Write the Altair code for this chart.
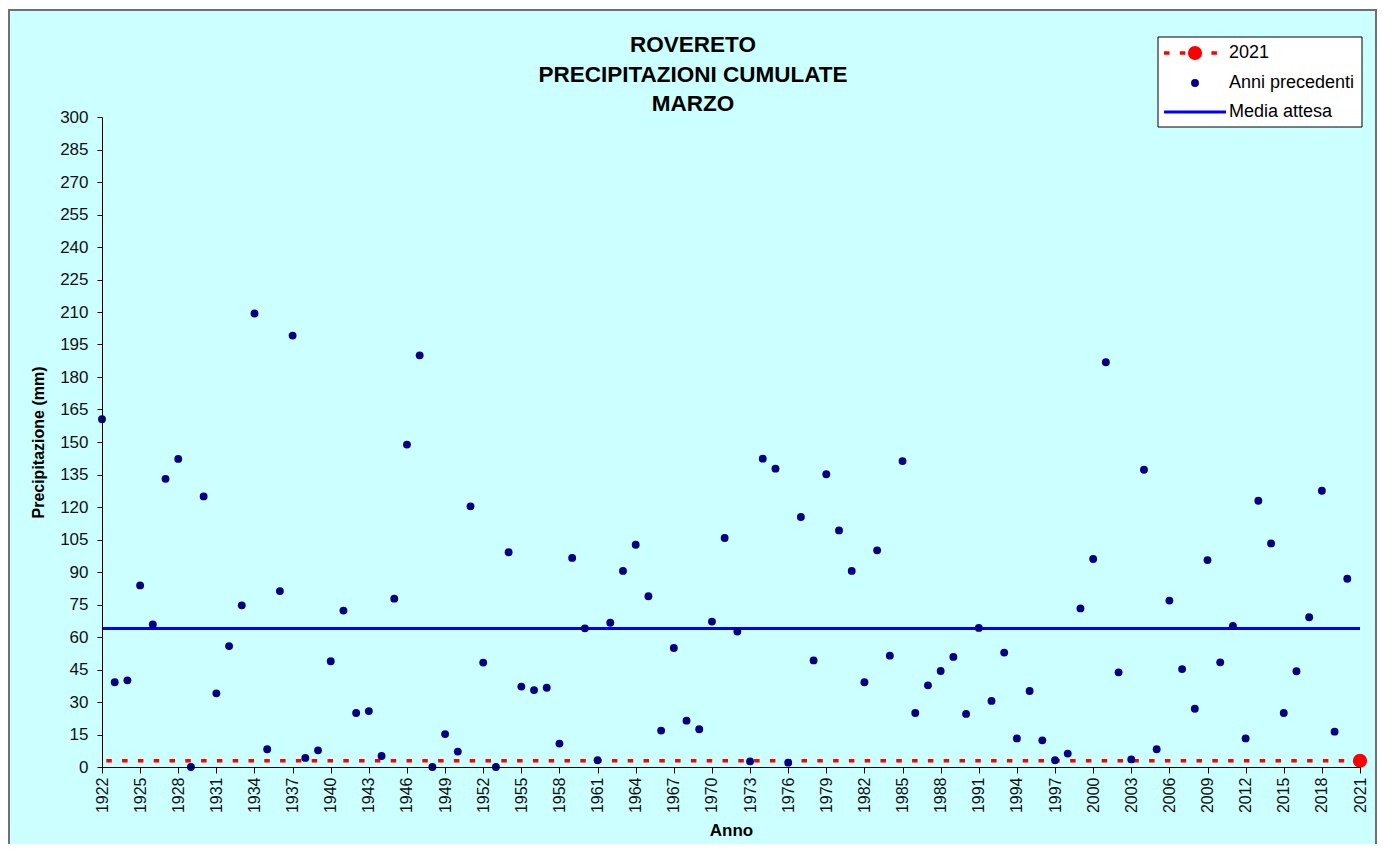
import altair as alt
import pandas as pd

# ---------------- data ----------------
years_prev = list(range(1922, 2021))
precip_prev = [160.5, 39.1, 40.0, 83.8, 65.8, 133.0, 142.2, 0.0, 124.9, 34.0,
               55.8, 74.6, 209.3, 8.2, 81.2, 199.1, 4.2, 7.7, 48.8, 72.2,
               24.9, 25.8, 5.1, 77.7, 148.8, 190.0, 0.0, 15.2, 7.1, 120.3,
               48.2, 0.0, 99.1, 37.1, 35.5, 36.6, 10.8, 96.5, 64.0, 3.1,
               66.6, 90.5, 102.6, 78.8, 16.8, 54.9, 21.4, 17.4, 67.1, 105.7,
               62.5, 2.6, 142.3, 137.7, 2.0, 115.4, 49.2, 135.1, 109.2, 90.5,
               39.1, 100.0, 51.4, 141.2, 24.9, 37.7, 44.3, 50.8, 24.5, 64.2,
               30.5, 52.8, 13.2, 35.1, 12.3, 3.1, 6.2, 73.2, 96.0, 186.8,
               43.7, 3.5, 137.2, 8.2, 76.8, 45.2, 26.9, 95.5, 48.3, 65.1,
               13.2, 122.9, 103.2, 24.9, 44.2, 69.1, 127.5, 16.3, 86.9]
year_current = [2021]
precip_current = [2.9]
media_attesa = [63.9]

x_ticks = list(range(1922, 2022, 3))
y_ticks = list(range(0, 301, 15))
title_lines = ["ROVERETO", "PRECIPITAZIONI CUMULATE", "MARZO"]
legend_labels = ["2021", "Anni precedenti", "Media attesa"]
x_title = "Anno"
y_title = "Precipitazione (mm)"

FONT = "Liberation Sans"
BG = "#CCFFFF"
NAVY = "#000080"
RED = "#FF0000"
BLUE = "#0000FF"

W, H = 1258, 650
PAD = {"left": 94, "top": 109, "right": 17, "bottom": 77}

df_prev = pd.DataFrame({"anno": years_prev, "mm": precip_prev})
df_cur = pd.DataFrame({"anno": year_current, "mm": precip_current})
df_mean = pd.DataFrame({"mm": media_attesa})
one = pd.DataFrame({"k": [0]})

xscale = alt.Scale(domain=[1922, 2021], nice=False, zero=False)
yscale = alt.Scale(domain=[0, 300], nice=False)

xaxis = alt.Axis(values=x_ticks, tickCount=200, format="d", labelAngle=270, grid=False,
                 zindex=1, labelOverlap=False, labelFlush=False,
                 labelFontSize=16, labelColor="#111111", labelPadding=4,
                 tickSize=6, tickColor="black", domainColor="black",
                 title=x_title, titleFontSize=17, titleFontWeight="bold",
                 titleColor="black", titlePadding=10, labelFont=FONT, titleFont=FONT)
yaxis = alt.Axis(values=y_ticks, tickCount=200, grid=False, zindex=1, labelOverlap=False,
                 labelFlush=False,
                 labelFontSize=17, labelColor="#111111", labelPadding=9, tickSize=5,
                 tickColor="black", domainColor="black",
                 title=y_title, titleFontSize=16, titleFontWeight="bold",
                 titleColor="black", titlePadding=13, labelFont=FONT, titleFont=FONT)

# frame of the chart area
frame = alt.Chart(one).mark_rect(fill=BG, stroke="#707070", strokeWidth=2).encode(
    x=alt.value(-93), x2=alt.value(W + PAD["right"] - 1),
    y=alt.value(-107), y2=alt.value(H + 200))

mean_rule = alt.Chart(df_mean).mark_rule(color=BLUE, strokeWidth=3).encode(
    y=alt.Y("mm:Q", scale=yscale, axis=yaxis))

cur_rule = alt.Chart(df_cur).mark_rule(color=RED, strokeWidth=3.4,
                                       strokeDash=[5.5, 10.3]).encode(
    y=alt.Y("mm:Q", scale=yscale, axis=yaxis))

prev_pts = alt.Chart(df_prev).mark_point(filled=True, shape="circle", size=62,
                                         color=NAVY, opacity=1).encode(
    x=alt.X("anno:Q", scale=xscale, axis=xaxis),
    y=alt.Y("mm:Q", scale=yscale, axis=yaxis))

cur_pt = alt.Chart(df_cur).mark_point(filled=True, shape="circle", size=200,
                                      color=RED, opacity=1).encode(
    x=alt.X("anno:Q", scale=xscale, axis=xaxis),
    y=alt.Y("mm:Q", scale=yscale, axis=yaxis))

# title lines
title_y = [-72, -42, -13]
titles = [alt.Chart(one).mark_text(text=t, font=FONT, fontSize=22.5, fontWeight="bold",
                                   color="black", align="center", baseline="middle").encode(
    x=alt.value(591), y=alt.value(yy)) for t, yy in zip(title_lines, title_y)]

# legend
lg_box = alt.Chart(one).mark_rect(fill="white", stroke="black", strokeWidth=1).encode(
    x=alt.value(1056), x2=alt.value(1260), y=alt.value(-80), y2=alt.value(10))
lg_red_line = alt.Chart(one).mark_rule(color=RED, strokeWidth=3.4, strokeDash=[5.5, 10.3]).encode(
    x=alt.value(1062), x2=alt.value(1124), y=alt.value(-64))
lg_red_pt = alt.Chart(one).mark_point(filled=True, shape="circle", size=200, color=RED,
                                      opacity=1).encode(x=alt.value(1093), y=alt.value(-64))
lg_navy_pt = alt.Chart(one).mark_point(filled=True, shape="circle", size=62, color=NAVY,
                                       opacity=1).encode(x=alt.value(1093), y=alt.value(-34))
lg_blue_line = alt.Chart(one).mark_rule(color=BLUE, strokeWidth=3).encode(
    x=alt.value(1062), x2=alt.value(1124), y=alt.value(-5))
lg_texts = [alt.Chart(one).mark_text(text=t, font=FONT, fontSize=18, color="black",
                                     align="left", baseline="middle").encode(
    x=alt.value(1127), y=alt.value(yy)) for t, yy in zip(legend_labels, [-64, -34, -5])]

chart = alt.layer(frame, mean_rule, cur_rule, prev_pts, cur_pt, *titles,
                  lg_box, lg_red_line, lg_red_pt, lg_navy_pt, lg_blue_line, *lg_texts
                  ).resolve_scale(x="shared", y="shared").properties(
    width=W, height=H, padding=PAD,
    autosize=alt.AutoSizeParams(type="none"),
    background="white"
).configure_view(strokeWidth=0).configure(font=FONT)

chart.save("out.html", embed_options={"renderer": "svg", "actions": False})
